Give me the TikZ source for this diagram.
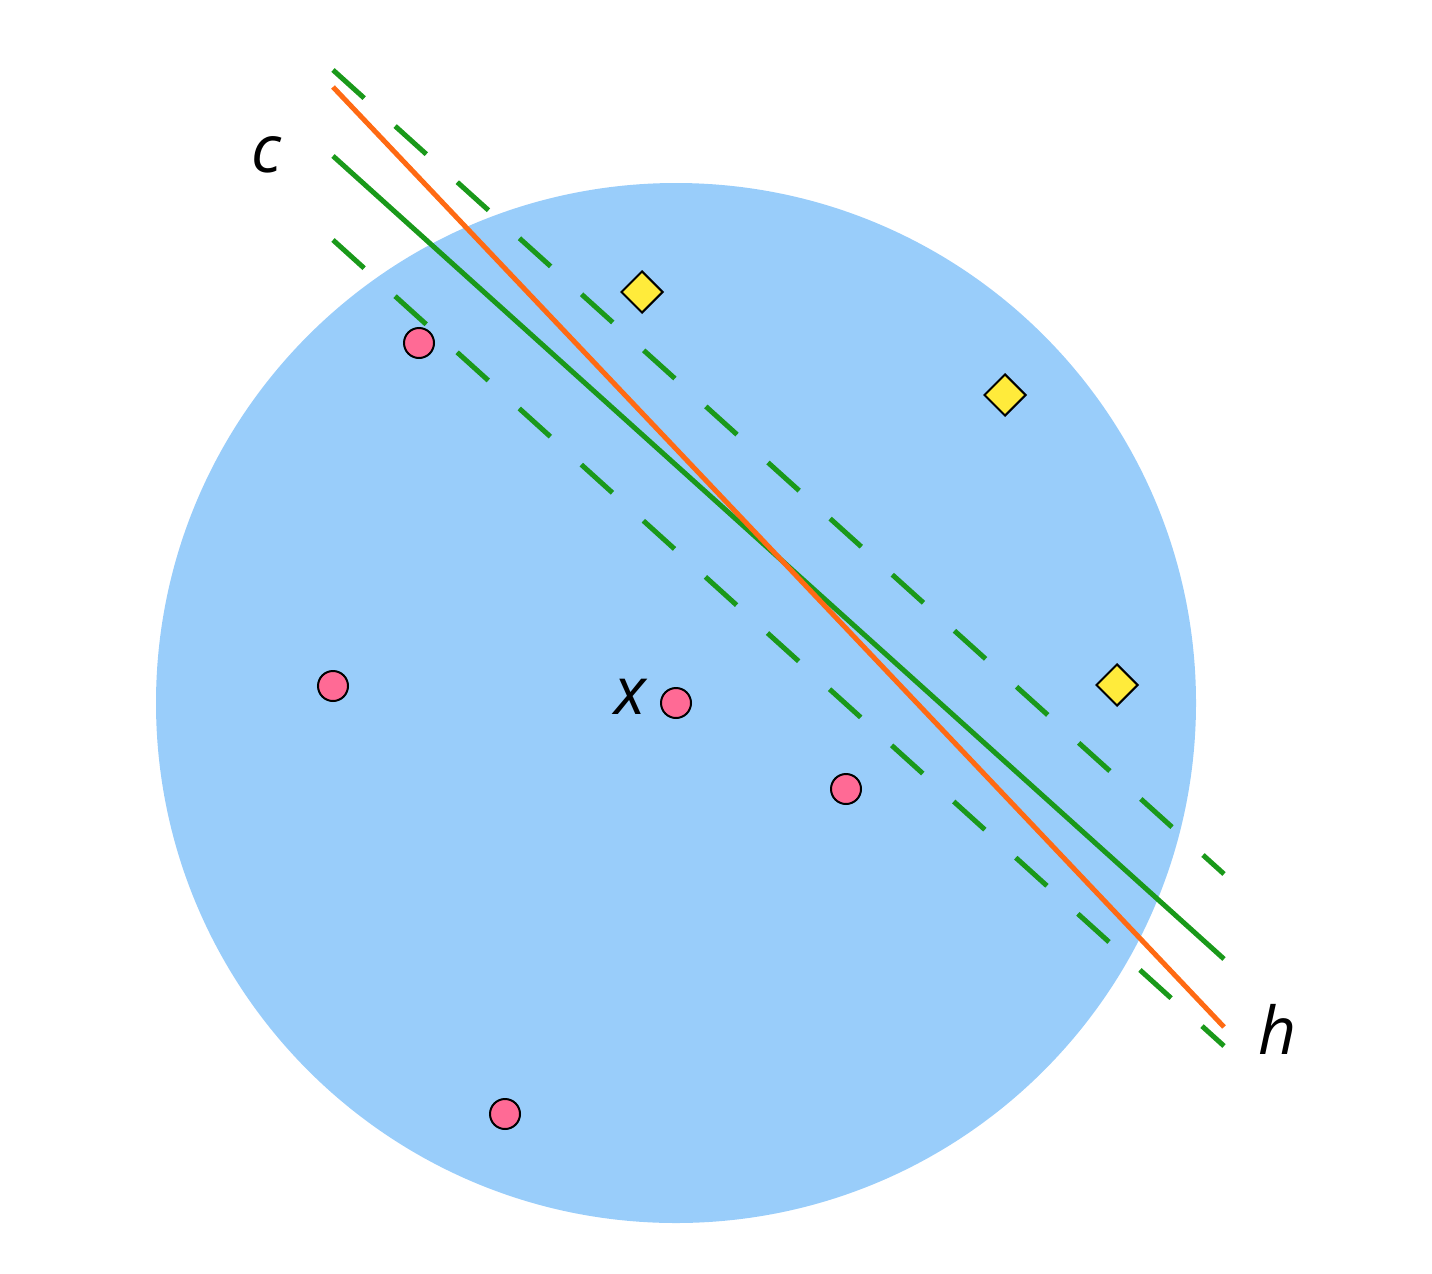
\documentclass[tikz,border=0pt]{standalone}
\usepackage{fontspec}
\usetikzlibrary{shapes.geometric}
\newfontfamily\labfont{Open Sans}
\begin{document}
\begin{tikzpicture}[x=1pt,y=-1pt,
  dot/.style={circle,draw=black,line width=2pt,fill=pinkdot,minimum size=30pt,inner sep=0pt},
  dia/.style={diamond,draw=black,line width=2pt,fill=yellowdia,minimum size=42pt,inner sep=0pt},
  solidline/.style={line width=5pt},
  dashline/.style={line width=5pt,draw=greenline,dash pattern=on 42pt off 41.7pt},
  lab/.style={inner sep=0pt,font=\labfont\itshape\fontsize{66}{79}\selectfont}]
\definecolor{bluefill}{RGB}{153,205,250}
\definecolor{greenline}{RGB}{26,153,26}
\definecolor{orangeline}{RGB}{255,106,19}
\definecolor{pinkdot}{RGB}{255,106,149}
\definecolor{yellowdia}{RGB}{255,235,59}
\useasboundingbox (0,0) rectangle (1432,1274);
\fill[bluefill] (676,703) circle[radius=520];
% line endpoints
\coordinate (du1) at (333,70);
\coordinate (du2) at (1224,874);
\coordinate (dl1) at (333,240);
\coordinate (dl2) at (1224,1046);
\coordinate (g1) at (333,156);
\coordinate (g2) at (1224,959);
\coordinate (o1) at (333,87);
\coordinate (o2) at (1224,1027);
\draw[dashline] (du1) -- (du2);
\draw[dashline] (dl1) -- (dl2);
\draw[solidline,greenline] (g1) -- (g2);
\draw[solidline,orangeline] (o1) -- (o2);
% points
\node[dot] (p1) at (419,343) {};
\node[dot] (p2) at (333,686) {};
\node[dot] (p3) at (676,703) {};
\node[dot] (p4) at (846,789) {};
\node[dot] (p5) at (505,1114) {};
\node[dia] (d1) at (642,292) {};
\node[dia] (d2) at (1005,395) {};
\node[dia] (d3) at (1117,685) {};
% labels
\node[lab] (lc) at (266,155) {c};
\node[lab] (lx) at (630,697) {x};
\node[lab] (lh) at (1277,1029) {h};
\end{tikzpicture}
\end{document}
